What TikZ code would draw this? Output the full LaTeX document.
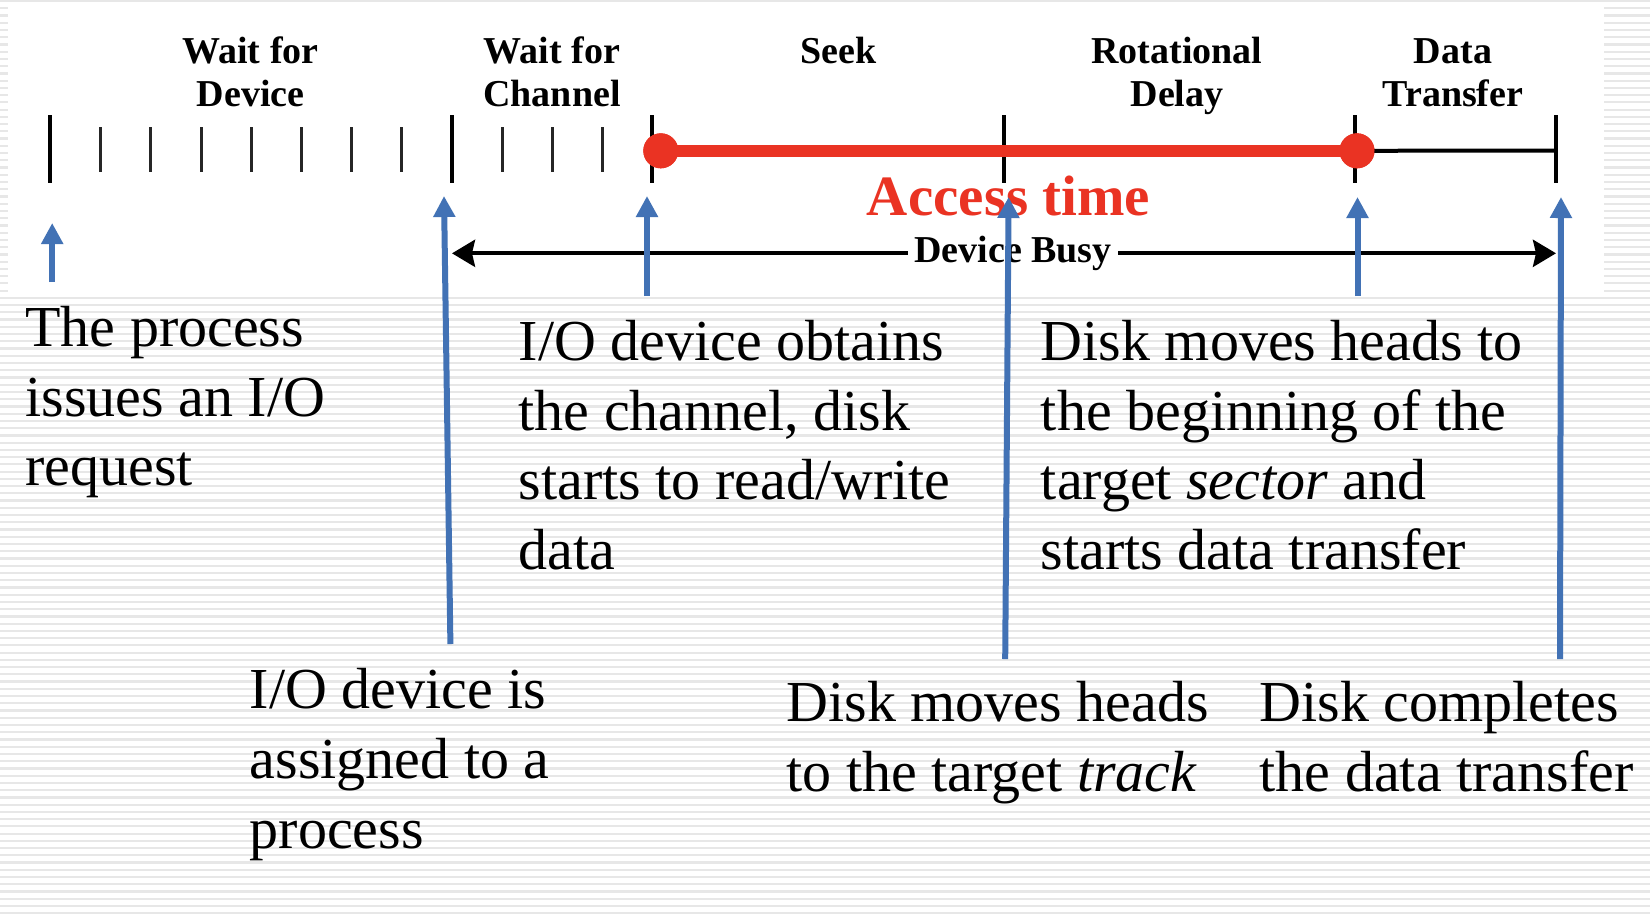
\documentclass[tikz,border=0pt]{standalone}
\usepackage{fontspec}
\setmainfont{Liberation Serif}
\usetikzlibrary{arrows.meta}
\definecolor{ablue}{RGB}{66,114,181}
\definecolor{ared}{RGB}{234,51,35}
\definecolor{stripecol}{RGB}{231,231,231}
\tikzset{
  stripeline/.style={stripecol, line width=1.1pt},
  body/.style={anchor=base west, inner sep=0pt, font=\fontsize{29}{34.75}\selectfont},
  phase/.style={anchor=base, inner sep=0pt, font=\bfseries\fontsize{19}{21.5}\selectfont},
  bigtick/.style={line width=2pt},
  smalltick/.style={line width=1.5pt, black!85},
  ptr/.style={ablue, line width=3pt, -{Triangle[length=10.5pt,width=10.5pt]}},
  busyarrow/.style={line width=2pt, -{Stealth[length=11.5pt,width=13.5pt,inset=1.5pt]}},
  accessline/.style={ared, line width=6.3pt},
  dot/.style={circle, fill=ared, inner sep=0pt, minimum size=17.5pt},
}
\begin{document}
\begin{tikzpicture}[x=0.5pt,y=-0.5pt]
\useasboundingbox (0,0) rectangle (1650,918);
% background stripes
\fill[white] (0,0) rectangle (1650,918);
\foreach \k in {0,...,126} {
  \draw[stripeline] (0,{1+7.24*\k}) -- (1650,{1+7.24*\k});
}
% white figure area
\fill[white] (8,5) rectangle (1604,293);

% ticks
\foreach \x in {100.6,150.8,201,251.2,301.4,351.6,401.8,502,552.2,602.4}
  \draw[smalltick] (\x,127) -- (\x,172);
\foreach \x in {50.4,451.8,652.2,1004,1355,1556}
  \draw[bigtick] (\x,115) -- (\x,183);

% phase labels
\node[phase] (wdev) at (250.5,63) {\parbox[t]{100pt}{\centering Wait for\\Device}};
\node[phase] (wch) at (552,63) {\parbox[t]{100pt}{\centering Wait for\\Channel}};
\node[phase] (seek) at (838.5,63) {\parbox[t]{100pt}{\centering Seek}};
\node[phase] (rot) at (1177,63) {\parbox[t]{100pt}{\centering Rotational\\Delay}};
\node[phase] (dt) at (1453,63) {\parbox[t]{100pt}{\centering Data\\Transfer}};

% access time line
\node[dot] (d1) at (660.8,150.8) {};
\node[dot] (d2) at (1357,150.8) {};
\coordinate (dtend) at (1556,150.5);
\draw[line width=2pt] (d2.center) -- (dtend);
\draw[accessline] (d1.center) -- (d2.center);
\node[dot] at (d1) {};
\node[dot] at (d2) {};

\node[anchor=base, inner sep=0pt, text=ared, font=\bfseries\fontsize{28.5}{30}\selectfont] (acc) at (1008.6,215) {Access time};

% device busy
\node[inner xsep=3pt, inner ysep=1pt, fill=white, font=\bfseries\fontsize{19}{21}\selectfont] (busy) at (1013,253.3) {Device Busy};
\coordinate (bl) at (452,253.3);
\coordinate (br) at (1556,253.3);
\draw[busyarrow] (busy) -- (bl);
\draw[busyarrow] (busy) -- (br);

% explanation texts
\node[body] (t1) at (25,346.7) {\parbox[t]{300pt}{\raggedright The process\\issues an I/O\\request}};
\node[body] (t2) at (249.5,708) {\parbox[t]{300pt}{\raggedright\baselineskip=35pt I/O device is\\assigned to a\\process}};
\node[body] (t3) at (518.3,360.7) {\parbox[t]{300pt}{\raggedright I/O device obtains\\the channel, disk\\starts to read/write\\data}};
\node[body] (t4) at (1040.5,360.7) {\parbox[t]{300pt}{\raggedright Disk moves heads to\\the beginning of the\\target \textit{sector} and\\starts data transfer}};
\node[body] (t5) at (786.4,721.7) {\parbox[t]{300pt}{\raggedright Disk moves heads\\to the target \textit{track}}};
\node[body] (t6) at (1259.4,721.7) {\parbox[t]{300pt}{\raggedright Disk completes\\the data transfer}};

% pointer arrows
\coordinate (a1s) at (52.2,282);   \coordinate (a1e) at (52.2,223);
\coordinate (a2s) at (450.4,644);  \coordinate (a2e) at (444,196);
\coordinate (a3s) at (647,296);    \coordinate (a3e) at (647,196);
\coordinate (a4s) at (1005.2,659); \coordinate (a4e) at (1008.6,197);
\coordinate (a5s) at (1357.5,296); \coordinate (a5e) at (1357.5,197);
\coordinate (a6s) at (1560,659);   \coordinate (a6e) at (1561,197);
\draw[ptr] (a1s) -- (a1e);
\draw[ptr] (a2s) -- (a2e);
\draw[ptr] (a3s) -- (a3e);
\draw[ptr] (a4s) -- (a4e);
\draw[ptr] (a5s) -- (a5e);
\draw[ptr] (a6s) -- (a6e);
\end{tikzpicture}
\end{document}
